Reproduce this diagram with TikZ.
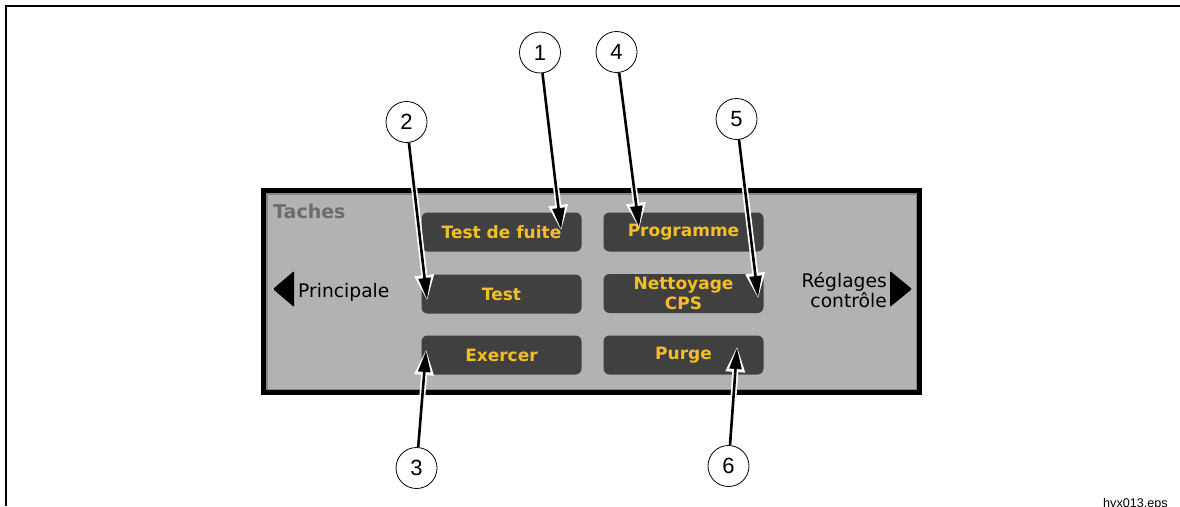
\documentclass[tikz,border=0pt]{standalone}
\usepackage{fontspec}
\setmainfont{DejaVu Sans}
\newfontfamily\callfont{Liberation Sans}
\usetikzlibrary{arrows.meta}
\definecolor{panelgray}{RGB}{178,178,178}
\definecolor{edgegray}{RGB}{135,135,135}
\definecolor{btngray}{RGB}{64,64,64}
\definecolor{btntext}{RGB}{245,190,40}
\definecolor{titlegray}{RGB}{108,108,108}
\begin{document}
\begin{tikzpicture}[x=1pt,y=-1pt,
  btn/.style={fill=btngray, draw=none, rounded corners=6pt, minimum width=160pt, minimum height=39pt, inner sep=0pt, text=btntext, font=\fontsize{17}{20}\selectfont\bfseries, align=center},
  callout/.style={circle, draw, line width=0.8pt, minimum size=41pt, inner sep=0pt, font=\callfont\fontsize{22}{22}\selectfont},
  halo/.style={white, line width=6pt, shorten <=3pt, shorten >=-2pt, -{Triangle[length=26pt,width=18pt]}},
  leader/.style={black, line width=2.6pt, -{Triangle[length=21pt,width=12pt]}},
  scrtext/.style={inner sep=0pt, font=\fontsize{18.7}{20}\selectfont},
]
\useasboundingbox (0,0) rectangle (1180,506);
% outer frame
\draw[line width=2pt] (6,506) -- (6,6) -- (1180,6);
% panel
\fill[black] (261,188) rectangle (922,395);
\fill[edgegray] (266,193) rectangle (917,390);
\fill[panelgray] (267.5,194.5) rectangle (915.5,388.5);
\node[scrtext, anchor=base west, text=titlegray, font=\fontsize{19}{20}\selectfont\bfseries] (title) at (273,218) {Taches};
% buttons
\node[btn] (b1) at (501.5,232) {Test de fuite};
\node[btn] (b2) at (501.5,294) {Test};
\node[btn] (b3) at (501.5,355) {Exercer};
\node[btn] (b4) at (683.5,232) {Programme};
\node[btn] (b5) at (683.5,293.5) {Nettoyage\\CPS};
\node[btn] (b6) at (683.5,355) {Purge};
% navigation
\fill[rounded corners=1pt] (273,289) -- (294,271) -- (294,307) -- cycle;
\fill[rounded corners=1pt] (912,289) -- (890,271) -- (890,307) -- cycle;
\node[scrtext, anchor=base west] (prin) at (298,297) {Principale};
\node[scrtext, anchor=base east, align=right] (regl) at (887,307) {Réglages\\contrôle};
% callouts
\node[callout] (c1) at (540,52.5) {1};
\node[callout] (c4) at (616.5,52) {4};
\node[callout] (c2) at (406.5,122) {2};
\node[callout] (c5) at (736.5,119) {5};
\node[callout] (c3) at (416.5,468) {3};
\node[callout] (c6) at (728.5,466) {6};
\coordinate (t1) at (561,229);
\coordinate (t4) at (639,227);
\coordinate (t2) at (427,299);
\coordinate (t5) at (758,297);
\coordinate (t3) at (426,351);
\coordinate (t6) at (737,348);
\foreach \i in {1,...,6} \draw[halo] (c\i) -- (t\i);
\foreach \i in {1,...,6} \draw[leader] (c\i) -- (t\i);
% file label
\node[inner sep=0pt, anchor=base west, font=\callfont\fontsize{12.6}{14}\selectfont] (eps) at (1103,507.5) {hyx013.eps};
\end{tikzpicture}
\end{document}
